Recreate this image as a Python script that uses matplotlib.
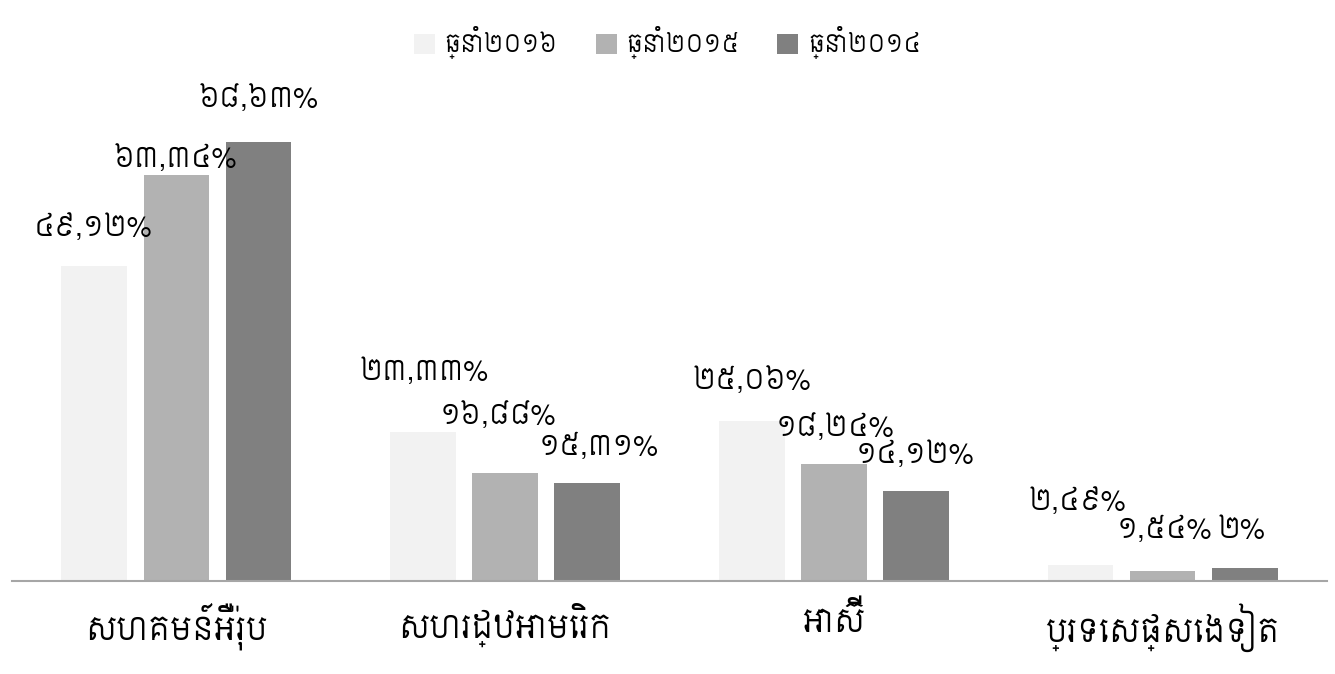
import matplotlib
matplotlib.use("Agg")
import matplotlib.pyplot as plt
import numpy as np

categories = ["សហគមន៍អឺរ៉ុប", "សហរដ្ឋអាមេរិក", "អាស៊ី", "ប្រទេសផ្សេងទៀត"]
series_names = ["ឆ្នាំ២០១៦", "ឆ្នាំ២០១៥", "ឆ្នាំ២០១៤"]
values_2016 = [49.12, 23.33, 25.06, 2.49]
values_2015 = [63.34, 16.88, 18.24, 1.54]
values_2014 = [68.63, 15.31, 14.12, 2.00]
labels_2016 = ["៤៩,១២%", "២៣,៣៣%", "២៥,០៦%", "២,៤៩%"]
labels_2015 = ["៦៣,៣៤%", "១៦,៨៨%", "១៨,២៤%", "១,៥៤%"]
labels_2014 = ["៦៨,៦៣%", "១៥,៣១%", "១៤,១២%", "២%"]

# label placement offsets (points) relative to each bar top, as in the original
offsets_2016 = [(-1, 27), (1, 42), (0, 28), (-2, 45)]
offsets_2015 = [(-1, 11), (-5, 40), (1, 25), (1, 29)]
offsets_2014 = [(0, 30), (8, 25), (-1, 25), (-2, 27)]

colors = ["#F2F2F2", "#B2B2B2", "#808080"]
FAM = ["Siemreap", "Noto Sans Khmer", "DejaVu Sans"]
plt.rcParams['font.family'] = FAM

fig = plt.figure(figsize=(13.35, 6.74), dpi=100)
ax = fig.add_axes([0.009, 0.138, 0.985, 0.76])

x = np.arange(len(categories))
width = 0.2
step = 0.25
all_vals = [values_2016, values_2015, values_2014]
all_labels = [labels_2016, labels_2015, labels_2014]
all_offs = [offsets_2016, offsets_2015, offsets_2014]
handles = []
for i, (vals, labs, offs, col, name) in enumerate(zip(all_vals, all_labels, all_offs, colors, series_names)):
    pos = x + (i - 1) * step
    bars = ax.bar(pos, vals, width=width, color=col, label=name, zorder=2)
    handles.append(bars)
    for p, v, t, o in zip(pos, vals, labs, offs):
        ax.annotate(t, (p, v), xytext=o, textcoords="offset points",
                    ha="center", va="center", fontsize=20, color="#000000", zorder=3)

ax.set_xlim(-0.5, 3.5)
ax.set_ylim(0, 80)
ax.set_xticks(x)
ax.set_xticklabels(categories, fontsize=23)
ax.tick_params(axis="x", length=0, pad=16)
ax.set_yticks([])
for s in ["top", "right", "left"]:
    ax.spines[s].set_visible(False)
ax.spines["bottom"].set_color("#A6A6A6")
ax.spines["bottom"].set_linewidth(1.5)

fig.legend(handles=handles, labels=series_names, loc="center", bbox_to_anchor=(0.5, 0.937),
           ncol=3, frameon=False, fontsize=17, handlelength=0.9, handleheight=0.9,
           handletextpad=0.4, columnspacing=1.6)

fig.savefig("out.png", dpi=100)
